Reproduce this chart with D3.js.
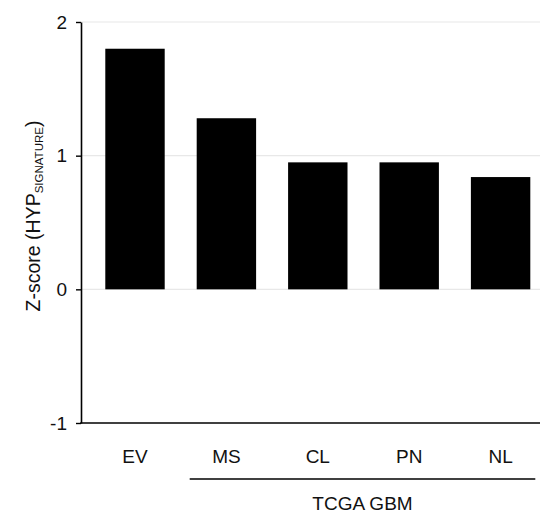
<!DOCTYPE html>
<html>
<head>
  <meta charset="UTF-8">
  <title>HYP signature z-score</title>
  <style>
    body { margin: 0; background: #fff; }
    svg { display: block; font-family: Arial, "Liberation Sans", sans-serif; }
  </style>
  <script src="https://d3js.org/d3.v7.min.js"></script>
</head>
<body>
  <svg id="chart" width="540" height="514"></svg>
  <script>
    // data
    const categories = ['EV', 'MS', 'CL', 'PN', 'NL'];
    const zScores = [1.80, 1.28, 0.95, 0.95, 0.84];
    const yTicks = [-1, 0, 1, 2];
    const gridTicks = [0, 1, 2];
    const groupLabel = 'TCGA GBM';
    const groupMembers = ['MS', 'CL', 'PN', 'NL'];

    const svg = d3.select('#chart');
    const axisLeft = 81, axisRight = 540;
    const fontSize = 19;

    const y = d3.scaleLinear().domain([-1, 2]).range([423, 22]);
    const x = d3.scaleBand()
      .domain(categories)
      .range([89.3, 546.3])
      .paddingInner(0.35)
      .paddingOuter(0.175);

    // light gridlines
    svg.append('g')
      .selectAll('line')
      .data(gridTicks)
      .join('line')
      .attr('x1', axisLeft)
      .attr('x2', axisRight)
      .attr('y1', d => y(d))
      .attr('y2', d => y(d))
      .attr('stroke', '#e8e8e8')
      .attr('stroke-width', 1.2);

    // bars
    svg.append('g')
      .selectAll('rect')
      .data(zScores)
      .join('rect')
      .attr('x', (d, i) => x(categories[i]))
      .attr('width', x.bandwidth())
      .attr('y', d => y(Math.max(0, d)))
      .attr('height', d => Math.abs(y(d) - y(0)))
      .attr('fill', '#000');

    // y axis
    const yAxis = svg.append('g')
      .attr('transform', `translate(${axisLeft},0)`)
      .call(d3.axisLeft(y)
        .tickValues(yTicks)
        .tickFormat(d => String(d))
        .tickSize(5)
        .tickPadding(9)
        .tickSizeOuter(0));
    yAxis.select('.domain').attr('stroke-width', 1.6);
    yAxis.selectAll('.tick line').attr('stroke-width', 1.4);
    yAxis.selectAll('.tick text')
      .attr('font-size', fontSize)
      .attr('fill', '#111')
      .attr('font-family', 'Arial, "Liberation Sans", sans-serif');

    // x axis line
    svg.append('line')
      .attr('x1', axisLeft - 0.8)
      .attr('x2', axisRight)
      .attr('y1', y(-1))
      .attr('y2', y(-1))
      .attr('stroke', '#000')
      .attr('stroke-width', 1.6);

    // category labels
    svg.append('g')
      .selectAll('text')
      .data(categories)
      .join('text')
      .attr('x', d => x(d) + x.bandwidth() / 2)
      .attr('y', 462.5)
      .attr('text-anchor', 'middle')
      .attr('font-size', fontSize)
      .attr('fill', '#111')
      .text(d => d);

    // group bracket
    const gx0 = x(groupMembers[0]) - 7;
    const gx1 = x(groupMembers[groupMembers.length - 1]) + x.bandwidth() + 5;
    svg.append('line')
      .attr('x1', gx0)
      .attr('x2', gx1)
      .attr('y1', 479)
      .attr('y2', 479)
      .attr('stroke', '#000')
      .attr('stroke-width', 1.4);
    svg.append('text')
      .attr('x', (gx0 + gx1) / 2)
      .attr('y', 510)
      .attr('text-anchor', 'middle')
      .attr('font-size', fontSize)
      .attr('fill', '#111')
      .text(groupLabel);

    // y label with subscript
    const ylab = svg.append('text')
      .attr('transform', 'translate(40,216) rotate(-90)')
      .attr('text-anchor', 'middle')
      .attr('font-size', 19.5)
      .attr('fill', '#111');
    ylab.append('tspan').text('Z-score (HYP');
    ylab.append('tspan').attr('font-size', 11.5).attr('dy', 3).text('SIGNATURE');
    ylab.append('tspan').attr('dy', -3).text(')');
  </script>
</body>
</html>
